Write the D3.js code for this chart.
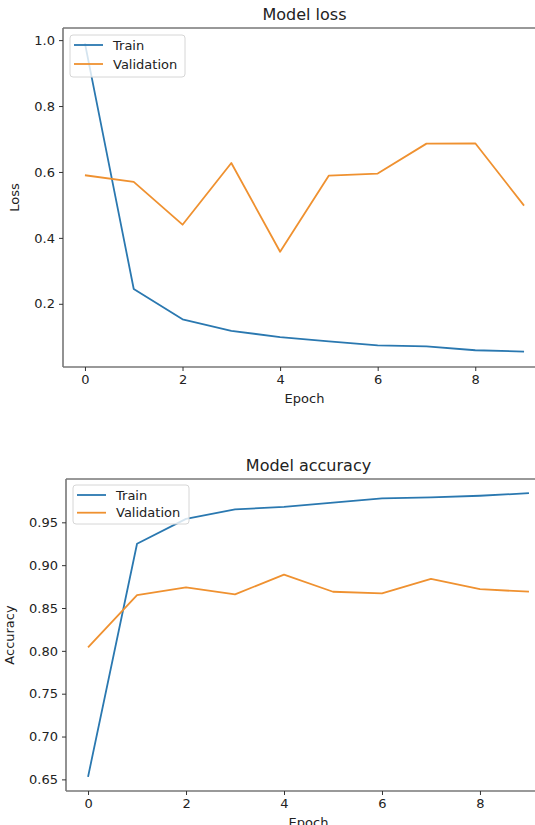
<!DOCTYPE html>
<html>
<head>
<meta charset="utf-8">
<script src="https://cdn.jsdelivr.net/npm/d3@7"></script>
<style>
	body { margin: 0; background: #fff; }
	svg { display: block; font-family: 'DejaVu Sans', sans-serif; }
</style>
</head>
<body>
<div id="chart"></div>
<script>
// values
const epochs = [0, 1, 2, 3, 4, 5, 6, 7, 8, 9]
const lossTrain = [0.99, 0.245, 0.153, 0.118, 0.099, 0.086, 0.074, 0.071, 0.059, 0.055]
const lossVal = [0.59, 0.57, 0.44, 0.627, 0.358, 0.589, 0.595, 0.686, 0.687, 0.498]
const accTrain = [0.653, 0.925, 0.954, 0.965, 0.968, 0.973, 0.978, 0.979, 0.981, 0.984]
const accVal = [0.804, 0.865, 0.874, 0.866, 0.889, 0.869, 0.867, 0.884, 0.872, 0.869]
const xTicks = [0, 2, 4, 6, 8]
const lossTicks = [0.2, 0.4, 0.6, 0.8, 1.0]
const accTicks = [0.65, 0.7, 0.75, 0.8, 0.85, 0.9, 0.95]
const seriesNames = ['Train', 'Validation']

const width = 535
const height = 825
const blue = '#2a78b0'
const orange = '#ef9130'

const svg = d3.select('#chart').append('svg').attr('width', width).attr('height', height)

// matplotlib style 5% margins
function padded(values) {
	const [lo, hi] = d3.extent(values)
	const m = (hi - lo) * 0.05
	return [lo - m, hi + m]
}

function drawPanel(opts) {
	const { left, right, top, bottom, title, yLabel, series, yTicks, yFmt, legend } = opts
	const x = d3.scaleLinear().domain(padded(epochs)).range([left, right])
	const y = d3.scaleLinear().domain(padded(series.flat())).range([bottom, top])
	const g = svg.append('g')

	// lines
	const line = d3.line().x((d, i) => x(epochs[i])).y(d => y(d))
	series.forEach((s, i) => {
		g.append('path')
			.attr('d', line(s))
			.attr('fill', 'none')
			.attr('stroke', i === 0 ? blue : orange)
			.attr('stroke-width', 1.8)
			.attr('stroke-linejoin', 'round')
	})

	// spines
	g.append('line').attr('x1', left).attr('x2', right).attr('y1', top).attr('y2', top)
		.attr('stroke', '#333').attr('stroke-width', 1)
	g.append('line').attr('x1', left).attr('x2', left).attr('y1', top).attr('y2', bottom)
		.attr('stroke', '#777').attr('stroke-width', 1.6)
	g.append('line').attr('x1', left).attr('x2', right).attr('y1', bottom).attr('y2', bottom)
		.attr('stroke', '#777').attr('stroke-width', 1.6)

	// x axis
	const xa = g.append('g').attr('transform', `translate(0,${bottom})`)
		.call(d3.axisBottom(x).tickValues(xTicks).tickSize(4).tickPadding(4).tickFormat(d3.format('d')))
	// y axis
	const ya = g.append('g').attr('transform', `translate(${left},0)`)
		.call(d3.axisLeft(y).tickValues(yTicks).tickSize(4).tickPadding(4).tickFormat(yFmt))
	;[xa, ya].forEach(a => {
		a.select('.domain').remove()
		a.selectAll('line').attr('stroke', '#333').attr('stroke-width', 1)
		a.selectAll('text').attr('fill', '#222').style('font-size', '13px').style('font-family', 'DejaVu Sans')
	})

	g.append('text')
		.attr('x', (left + right) / 2).attr('y', top - 8)
		.attr('text-anchor', 'middle').attr('fill', '#222')
		.style('font-size', '16px')
		.text(title)
	g.append('text')
		.attr('x', (left + right) / 2).attr('y', bottom + 36)
		.attr('text-anchor', 'middle').attr('fill', '#222')
		.style('font-size', '13px')
		.text('Epoch')
	g.append('text')
		.attr('transform', `translate(${opts.yLabelX},${(top + bottom) / 2}) rotate(-90)`)
		.attr('text-anchor', 'middle').attr('fill', '#222')
		.style('font-size', '13px')
		.text(yLabel)

	// legend
	const lg = g.append('g').attr('transform', `translate(${left + legend.dx},${top + legend.dy})`)
	lg.append('rect')
		.attr('width', legend.w).attr('height', legend.h).attr('rx', 3)
		.attr('fill', '#fff').attr('fill-opacity', 0.8)
		.attr('stroke', '#d6d6d6').attr('stroke-width', 1)
	seriesNames.forEach((name, i) => {
		const yy = legend.first + i * legend.step
		lg.append('line').attr('x1', 4).attr('x2', 33).attr('y1', yy).attr('y2', yy)
			.attr('stroke', i === 0 ? blue : orange).attr('stroke-width', 1.8)
		lg.append('text').attr('x', 43).attr('y', yy + 4.5)
			.attr('fill', '#222').style('font-size', '13px')
			.text(name)
	})
}

drawPanel({
	left: 63, right: 546, top: 28, bottom: 367,
	title: 'Model loss', yLabel: 'Loss', yLabelX: 19,
	series: [lossTrain, lossVal], yTicks: lossTicks, yFmt: d3.format('.1f'),
	legend: { dx: 7, dy: 7, w: 115, h: 42, first: 10, step: 19 },
})

drawPanel({
	left: 66, right: 551, top: 479, bottom: 791,
	title: 'Model accuracy', yLabel: 'Accuracy', yLabelX: 14,
	series: [accTrain, accVal], yTicks: accTicks, yFmt: d3.format('.2f'),
	legend: { dx: 7, dy: 6, w: 116, h: 39, first: 10, step: 17.7 },
})
</script>
</body>
</html>
